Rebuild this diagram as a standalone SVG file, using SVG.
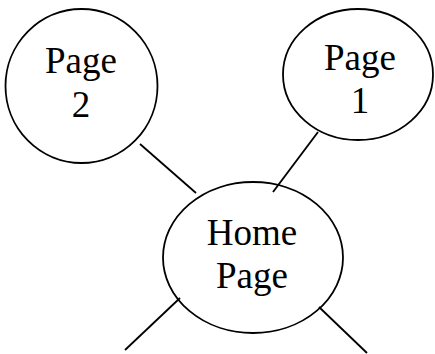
<svg xmlns="http://www.w3.org/2000/svg" width="435" height="354" viewBox="0 0 435 354">
<style>
.n{fill:#fff;stroke:#000;stroke-width:1.8}
.c line{stroke:#000;stroke-width:1.8}
text{font-family:"Liberation Serif","Times New Roman",serif;font-size:37px;fill:#000;text-anchor:middle}
</style>
<rect width="435" height="354" fill="#fff"/>
<g id="page2">
<ellipse class="n" cx="81.5" cy="86" rx="76" ry="77"/>
<text x="81" y="73">Page</text>
<text x="81" y="117">2</text>
</g>
<g id="page1">
<ellipse class="n" cx="358" cy="74.5" rx="75" ry="65.5"/>
<text x="360" y="70">Page</text>
<text x="360" y="113">1</text>
</g>
<g id="home">
<ellipse class="n" cx="253" cy="257.5" rx="90" ry="75.5"/>
<text x="252" y="245">Home</text>
<text x="252" y="288">Page</text>
</g>
<g class="c" id="connectors">
<line x1="140" y1="144" x2="196" y2="193"/>
<line x1="318" y1="132" x2="273" y2="192"/>
<line x1="180" y1="298" x2="125" y2="350"/>
<line x1="319" y1="307" x2="367" y2="353"/>
</g>
</svg>
